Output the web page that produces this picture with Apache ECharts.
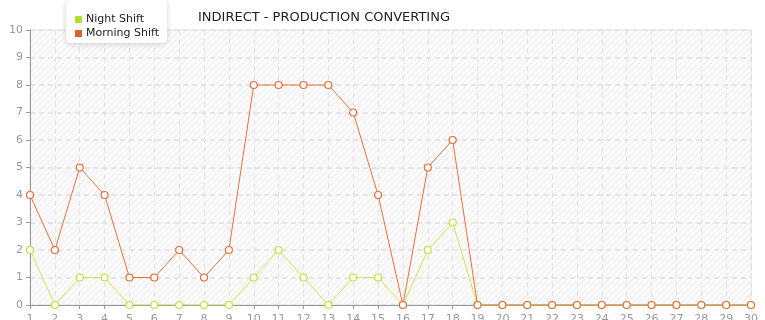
<!DOCTYPE html>
<html><head><meta charset="utf-8">
<script src="https://cdn.jsdelivr.net/npm/echarts@6/dist/echarts.min.js"></script>
<style>html,body{margin:0;padding:0;background:#fff}#c{width:765px;height:320px}</style>
</head><body><div id="c"></div>
<script>
const days = ['1','2','3','4','5','6','7','8','9','10','11','12','13','14','15','16','17','18','19','20','21','22','23','24','25','26','27','28','29','30'];
const nightShift = [2,0,1,1,0,0,0,0,0,1,2,1,0,1,1,0,2,3,0,0,0,0,0,0,0,0,0,0,0,0];
const morningShift = [4,2,5,4,1,1,2,1,2,8,8,8,8,7,4,0,5,6,0,0,0,0,0,0,0,0,0,0,0,0];
const titleText = 'INDIRECT - PRODUCTION CONVERTING';

const pc = document.createElement('canvas');
pc.width = 6; pc.height = 6;
const g = pc.getContext('2d');
g.fillStyle = '#fbfbfb'; g.fillRect(0,0,6,6);
g.strokeStyle = '#ebebeb'; g.lineWidth = 1;
g.beginPath();
g.moveTo(-1,7); g.lineTo(7,-1);
g.moveTo(-4,4); g.lineTo(4,-4);
g.moveTo(2,10); g.lineTo(10,2);
g.stroke();

const chart = echarts.init(document.getElementById('c'));
const font = 'DejaVu Sans';
chart.setOption({
  animation: false,
  textStyle: {fontFamily: font},
  title: {text: titleText, left: 193, top: 6, textStyle: {fontSize: 13, fontWeight: 'normal', color: '#222', fontFamily: font}},
  legend: {
    orient: 'vertical', left: 66, top: 0, padding: [14, 8, 4, 9], itemGap: 3,
    itemWidth: 7, itemHeight: 7, icon: 'rect',
    backgroundColor: '#fff', borderRadius: 5,
    shadowBlur: 6, shadowColor: 'rgba(0,0,0,0.18)', shadowOffsetY: 1,
    textStyle: {fontSize: 11, color: '#222', fontFamily: font, padding: [0,0,0,-1]},
    data: [
      {name: 'Night Shift', itemStyle: {color: '#b8dc34', borderWidth: 0}},
      {name: 'Morning Shift', itemStyle: {color: '#e0602c', borderWidth: 0}}
    ]
  },
  grid: {left: 30, right: 14, top: 30, bottom: 15, show: true, outerBoundsMode: 'none', containLabel: false,
    backgroundColor: {image: pc, repeat: 'repeat'}, borderColor: '#e4e4e4', borderWidth: 1},
  xAxis: {
    type: 'category', data: days, boundaryGap: false,
    axisLine: {lineStyle: {color: '#999'}},
    axisTick: {alignWithLabel: true, length: 4, lineStyle: {color: '#999'}},
    axisLabel: {color: '#999', fontSize: 11, margin: 9, interval: 0},
    splitLine: {show: true, lineStyle: {color: '#e2e2e2', type: [5,4]}}
  },
  yAxis: {
    type: 'value', min: 0, max: 10, interval: 1,
    axisLine: {show: true, lineStyle: {color: '#999'}},
    axisTick: {show: true, length: 4, lineStyle: {color: '#999'}},
    axisLabel: {color: '#999', fontSize: 11, margin: 7},
    splitLine: {lineStyle: {color: '#e6e6e6', type: [5,4], width: 2}}
  },
  series: [
    {name: 'Night Shift', type: 'line', data: nightShift, symbol: 'circle', symbolSize: 7,
     color: '#b8dc34',
     lineStyle: {color: '#cbe45a', width: 1},
     itemStyle: {color: '#fff', borderColor: '#c2e040', borderWidth: 1.2}},
    {name: 'Morning Shift', type: 'line', data: morningShift, symbol: 'circle', symbolSize: 7,
     color: '#e0602c',
     lineStyle: {color: '#e8703c', width: 1},
     itemStyle: {color: '#fff', borderColor: '#e66a36', borderWidth: 1.2}}
  ]
});
</script></body></html>
